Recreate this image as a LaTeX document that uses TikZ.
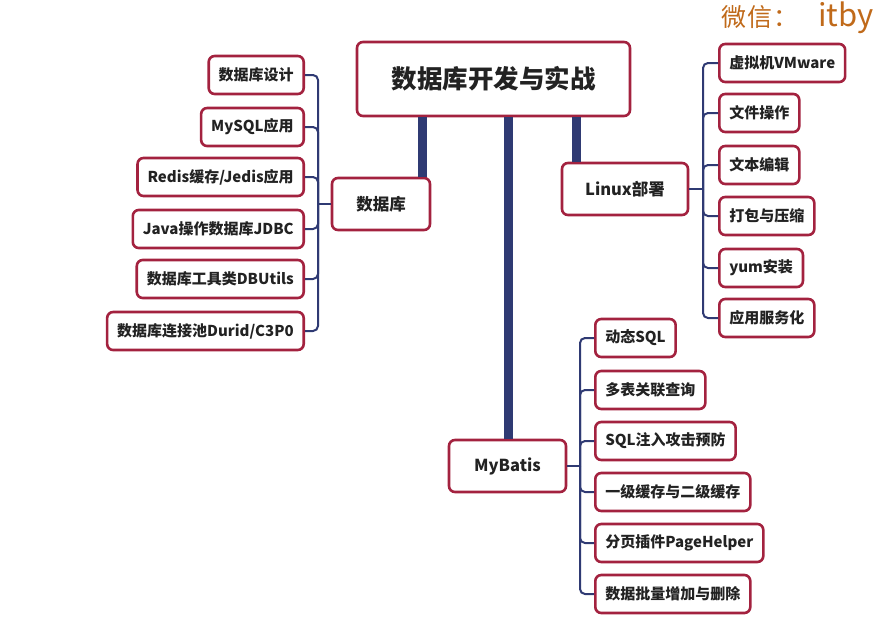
\documentclass[tikz,border=0pt]{standalone}
\usepackage{fontspec}
\setmainfont{Noto Sans CJK SC}
\usepackage{tikz}
\usetikzlibrary{positioning}
\definecolor{boxred}{HTML}{A3223F}
\definecolor{linenavy}{HTML}{2F3A73}
\definecolor{txtgray}{HTML}{222222}
\definecolor{wmorange}{HTML}{C06A1A}
\tikzset{
  topic/.style={draw=boxred, line width=2.6pt, rounded corners=6pt, fill=white, text=txtgray,
    font=\bfseries\fontsize{15}{17}\selectfont, minimum height=38pt, inner xsep=10pt},
  maintopic/.style={topic, font=\bfseries\fontsize{16.5}{18}\selectfont, minimum height=52pt},
  bar/.style={linenavy, line width=9pt},
  brace/.style={linenavy, line width=2pt, rounded corners=5pt},
}

\begin{document}
\begin{tikzpicture}[x=1pt, y=-1pt]
    \useasboundingbox (0,0) rectangle (883,625);       % page frame
    \node [anchor=base west, text=wmorange, inner sep=0pt] (wm) at (721,26)
      {{\fontsize{25}{30}\selectfont 微\kern1pt 信\kern1pt ：}\hspace{20pt}{\fontsize{31}{34}\selectfont itby}}; % watermark
    \node [topic, minimum width=273pt, minimum height=74pt, font=\bfseries\fontsize{25.5}{28}\selectfont] (root) at (493.5,79) {数据库开发与实战}; % root topic
    \node [maintopic, minimum width=98pt] (db) at (381,204) {数据库};            % left branch
    \node [maintopic, minimum width=126pt] (linux) at (625,189) {Linux部署};    % right branch
    \node [maintopic, minimum width=117pt] (mybatis) at (507.5,466) {MyBatis}; % lower branch
    % database items
    \node [topic, anchor=east] (db1) at (305,75) {数据库设计};
    \node [topic, anchor=east] (db2) at (305,127) {MySQL应用};
    \node [topic, anchor=east] (db3) at (305,177) {Redis缓存/Jedis应用};
    \node [topic, anchor=east] (db4) at (305,229) {Java操作数据库JDBC};
    \node [topic, anchor=east] (db5) at (305,279) {数据库工具类DBUtils};
    \node [topic, anchor=east] (db6) at (305,331) {数据库连接池Durid/C3P0};
    % linux items
    \node [topic, anchor=west] (lx1) at (718,63) {虚拟机VMware};
    \node [topic, anchor=west] (lx2) at (718,113) {文件操作};
    \node [topic, anchor=west] (lx3) at (718,165) {文本编辑};
    \node [topic, anchor=west] (lx4) at (718,216) {打包与压缩};
    \node [topic, anchor=west] (lx5) at (718,268) {yum安装};
    \node [topic, anchor=west] (lx6) at (718,318) {应用服务化};
    % mybatis items
    \node [topic, anchor=west] (mb1) at (594,338) {动态SQL};
    \node [topic, anchor=west] (mb2) at (594,390) {多表关联查询};
    \node [topic, anchor=west] (mb3) at (594,441) {SQL注入攻击预防};
    \node [topic, anchor=west] (mb4) at (594,492) {一级缓存与二级缓存};
    \node [topic, anchor=west] (mb5) at (594,543) {分页插件PageHelper};
    \node [topic, anchor=west] (mb6) at (594,594) {数据批量增加与删除};
    % thick bars from the root
    \coordinate (barL) at (422,0);
    \coordinate (barM) at (508,0);
    \coordinate (barR) at (576,0);
    \draw [bar] (barL |- root.south) -- (barL |- db.north);
    \draw [bar] (barM |- root.south) -- (barM |- mybatis.north);
    \draw [bar] (barR |- root.south) -- (barR |- linux.north);
    % brackets
    \coordinate (dbj) at (318,204);
    \coordinate (lxj) at (703,189);
    \coordinate (mbj) at (580,466);
    \draw [brace] (db1.east) -| (dbj);  \draw [brace] (db2.east) -| (dbj);
    \draw [brace] (db3.east) -| (dbj);  \draw [brace] (db4.east) -| (dbj);
    \draw [brace] (db5.east) -| (dbj);  \draw [brace] (db6.east) -| (dbj);
    \draw [brace] (dbj) -- (db.west);
    \draw [brace] (lx1.west) -| (lxj);  \draw [brace] (lx2.west) -| (lxj);
    \draw [brace] (lx3.west) -| (lxj);  \draw [brace] (lx4.west) -| (lxj);
    \draw [brace] (lx5.west) -| (lxj);  \draw [brace] (lx6.west) -| (lxj);
    \draw [brace] (lxj) -- (linux.east);
    \draw [brace] (mb1.west) -| (mbj);  \draw [brace] (mb2.west) -| (mbj);
    \draw [brace] (mb3.west) -| (mbj);  \draw [brace] (mb4.west) -| (mbj);
    \draw [brace] (mb5.west) -| (mbj);  \draw [brace] (mb6.west) -| (mbj);
    \draw [brace] (mbj) -- (mybatis.east);
\end{tikzpicture}
\end{document}
